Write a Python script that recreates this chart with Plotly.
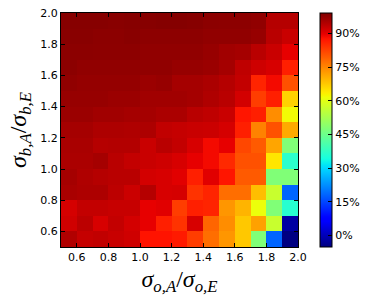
import plotly.graph_objects as go
import numpy as np

# Data (percent), rows from bottom (y=0.55) to top (y=1.95), columns x=0.55..1.95
x_centers = [0.55, 0.65, 0.75, 0.85, 0.95, 1.05, 1.15, 1.25, 1.35, 1.45, 1.55, 1.65, 1.75, 1.85, 1.95]
y_centers = [0.55, 0.65, 0.75, 0.85, 0.95, 1.05, 1.15, 1.25, 1.35, 1.45, 1.55, 1.65, 1.75, 1.85, 1.95]

row_055 = [94.6, 92.8, 93.2, 92.6, 92.0, 87.6, 87.6, 86.8, 83.0, 77.5, 73.1, 67.6, 47.5, 18.2, -5.0]
row_065 = [91.9, 93.7, 91.2, 93.0, 91.6, 89.8, 86.3, 84.1, 91.2, 78.6, 74.2, 67.6, 72.0, 56.7, -2.1]
row_075 = [91.4, 93.0, 93.0, 92.7, 92.7, 89.8, 90.3, 83.0, 86.3, 85.8, 73.1, 69.8, 61.2, 47.5, 36.3]
row_085 = [95.4, 95.0, 95.0, 93.6, 92.3, 94.3, 91.2, 91.4, 84.1, 85.8, 77.5, 77.5, 68.7, 56.7, 18.2]
row_095 = [95.7, 94.8, 94.3, 93.9, 93.9, 91.6, 91.2, 90.3, 86.3, 90.3, 87.4, 79.7, 79.7, 47.5, 47.5]
row_105 = [95.2, 95.2, 95.7, 93.9, 93.0, 92.5, 92.1, 91.2, 89.8, 88.6, 85.2, 80.8, 80.8, 64.3, 36.8]
row_115 = [95.4, 95.4, 94.3, 94.5, 94.5, 92.5, 93.9, 93.0, 91.2, 88.6, 89.8, 81.9, 79.7, 71.5, 47.5]
row_125 = [95.7, 95.7, 95.0, 95.0, 94.8, 95.0, 93.2, 92.8, 92.5, 92.3, 91.4, 86.3, 75.3, 80.8, 70.9]
row_135 = [96.6, 96.6, 96.1, 96.1, 95.7, 95.7, 95.2, 95.2, 93.9, 93.4, 92.5, 87.4, 86.3, 74.2, 62.0]
row_145 = [97.0, 97.0, 97.0, 96.6, 96.6, 96.1, 96.1, 96.1, 95.7, 94.8, 93.9, 91.6, 83.0, 86.3, 66.5]
row_155 = [97.5, 97.2, 97.2, 97.2, 97.2, 96.6, 97.0, 95.7, 95.7, 95.2, 94.3, 93.0, 85.8, 88.6, 80.8]
row_165 = [98.0, 97.5, 97.5, 97.5, 97.5, 97.5, 97.5, 97.0, 97.0, 96.6, 95.7, 93.4, 92.1, 91.2, 86.3]
row_175 = [98.0, 98.0, 97.9, 97.9, 97.9, 97.5, 97.5, 97.5, 97.5, 97.0, 96.1, 95.7, 93.9, 92.5, 89.8]
row_185 = [98.2, 98.2, 98.0, 98.0, 98.2, 97.9, 97.9, 97.9, 97.9, 97.5, 97.5, 97.5, 97.0, 93.9, 92.5]
row_195 = [98.4, 98.4, 98.4, 98.2, 98.4, 98.4, 98.6, 98.6, 98.4, 98.0, 97.9, 97.9, 97.5, 94.3, 94.3]

z = [row_055, row_065, row_075, row_085, row_095, row_105, row_115, row_125,
     row_135, row_145, row_155, row_165, row_175, row_185, row_195]

axis_ticks = [0.6, 0.8, 1.0, 1.2, 1.4, 1.6, 1.8, 2.0]
cbar_ticks = [0, 15, 30, 45, 60, 75, 90]
cbar_labels = ["0%", "15%", "30%", "45%", "60%", "75%", "90%"]
zmin, zmax = -5.2, 99.1

# matplotlib 'jet' colormap
def _interp(t, pts):
    xs = [p[0] for p in pts]; ys = [p[1] for p in pts]
    return float(np.interp(t, xs, ys))

R = [(0, 0), (0.35, 0), (0.66, 1), (0.89, 1), (1, 0.5)]
G = [(0, 0), (0.125, 0), (0.375, 1), (0.64, 1), (0.91, 0), (1, 0)]
B = [(0, 0.5), (0.11, 1), (0.34, 1), (0.65, 0), (1, 0)]
jet = []
for t in np.linspace(0, 1, 101):
    r, g, b = (_interp(t, R), _interp(t, G), _interp(t, B))
    jet.append([float(t), f"rgb({int(round(r*255))},{int(round(g*255))},{int(round(b*255))})"])

fig = go.Figure(go.Heatmap(
    x=x_centers, y=y_centers, z=z, zmin=zmin, zmax=zmax,
    colorscale=jet, xgap=0, ygap=0,
    colorbar=dict(
        x=(320 - 61) / 237, xanchor="left", xref="paper",
        y=0.5, yanchor="middle", len=1.0, lenmode="fraction",
        thickness=12, thicknessmode="pixels",
        outlinewidth=1, outlinecolor="black",
        tickmode="array", tickvals=cbar_ticks, ticktext=cbar_labels,
        ticks="inside", ticklen=4, tickcolor="black",
        tickfont=dict(family="DejaVu Sans", size=11, color="black"),
        xpad=0, ypad=0,
    ),
))

common = dict(
    showline=True, linecolor="black", linewidth=1, mirror="ticks",
    ticks="inside", ticklen=4, tickcolor="black",
    tickvals=axis_ticks, tickformat=".1f",
    tickfont=dict(family="DejaVu Sans", size=11, color="black"),
    showgrid=False, zeroline=False, range=[0.5, 2.0],
    automargin=False,
)

fig.update_layout(
    width=367, height=304,
    margin=dict(l=61, r=69, t=13, b=57, autoexpand=False),
    paper_bgcolor="white", plot_bgcolor="white",
    xaxis=dict(**common,
               title=dict(text="<i>σ</i><sub><i>o,A</i></sub>/<i>σ</i><sub><i>o,E</i></sub>",
                          font=dict(family="Liberation Serif", size=24, color="black"),
                          standoff=6)),
    yaxis=dict(**common,
               title=dict(text="<i>σ</i><sub><i>b,A</i></sub>/<i>σ</i><sub><i>b,E</i></sub>",
                          font=dict(family="Liberation Serif", size=24, color="black"),
                          standoff=6)),
)

fig.write_html("out.html",
               config={"displayModeBar": False},
               post_script="document.body.style.margin='0';document.body.style.overflow='hidden';")
